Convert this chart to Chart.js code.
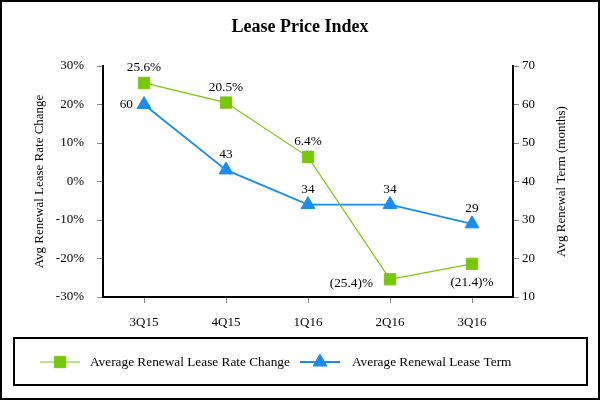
<!DOCTYPE html>
<html>
<head>
<meta charset="utf-8">
<script src="https://cdn.jsdelivr.net/npm/chart.js@4.4.0/dist/chart.umd.min.js"></script>
<style>
  html, body { margin: 0; padding: 0; background: #fff; }
  #wrap { width: 600px; height: 400px; position: relative; }
</style>
</head>
<body>
<div id="wrap"><canvas id="leaseChart" width="600" height="400"></canvas></div>
<script>
// --- dados ---
const quarters = ['3Q15', '4Q15', '1Q16', '2Q16', '3Q16'];
const rateChange = [25.6, 20.5, 6.4, -25.4, -21.4];
const leaseTerm = [60, 43, 34, 34, 29];
const leftTicks = [-30, -20, -10, 0, 10, 20, 30];
const rightTicks = [10, 20, 30, 40, 50, 60, 70];

const GREEN = '#78C80A';
const BLUE = '#1A8CEE';
const FONT = 'Liberation Serif';

// posição das etiquetas de cada ponto
const labelPlace = [
    ['top', 'top', 'top', 'left', 'bottom'],
    ['left', 'top', 'top', 'top', 'top']
];

const fmtRate = v => v < 0 ? '(' + Math.abs(v).toFixed(1) + ')%' : v.toFixed(1) + '%';
const fmtTerm = v => String(v);

const decorPlugin = {
    id: 'decor',
    afterDatasetsDraw(chart) {
        const ctx = chart.ctx;
        ctx.save();
        ctx.font = '13.3px "' + FONT + '"';
        ctx.fillStyle = '#000';
        chart.data.datasets.forEach((ds, di) => {
            const meta = chart.getDatasetMeta(di);
            meta.data.forEach((pt, i) => {
                const text = di === 0 ? fmtRate(ds.data[i]) : fmtTerm(ds.data[i]);
                const place = labelPlace[di][i];
                let x = pt.x, y = pt.y;
                ctx.textBaseline = 'middle';
                if (place === 'top') { ctx.textAlign = 'center'; y -= 15; }
                else if (place === 'bottom') { ctx.textAlign = 'center'; y += 19; }
                else { ctx.textAlign = 'right'; x -= di === 0 ? 17 : 11; y += di === 0 ? 4 : 0; }
                ctx.fillText(text, x, y);
            });
        });
        ctx.restore();
    },
    afterDraw(chart) {
        const ctx = chart.ctx;
        const area = chart.chartArea;
        ctx.save();
        // moldura exterior
        ctx.strokeStyle = '#000';
        ctx.lineWidth = 2;
        ctx.strokeRect(1, 1, 598, 398);

        // títulos dos eixos (ambos de baixo para cima)
        ctx.font = '13px "' + FONT + '"';
        ctx.fillStyle = '#000';
        ctx.textAlign = 'center';
        ctx.textBaseline = 'middle';
        const midY = (area.top + area.bottom) / 2;
        [[40, 'Avg Renewal Lease Rate Change'], [562, 'Avg Renewal Term (months)']].forEach(([x, t]) => {
            ctx.save();
            ctx.translate(x, midY);
            ctx.rotate(-Math.PI / 2);
            ctx.fillText(t, 0, 0);
            ctx.restore();
        });

        // legenda
        ctx.strokeRect(14, 338, 573, 47);
        ctx.font = '13.3px "' + FONT + '"';
        const ly = 362;
        const items = [[40, 90], [300, 352]];
        chart.data.datasets.forEach((ds, di) => {
            const [lx, tx] = items[di];
            ctx.strokeStyle = ds.borderColor;
            ctx.lineWidth = ds.borderWidth;
            ctx.beginPath();
            ctx.moveTo(lx, ly);
            ctx.lineTo(lx + 40, ly);
            ctx.stroke();
            ctx.fillStyle = ds.pointBackgroundColor;
            ctx.strokeStyle = ds.pointBorderColor;
            ctx.lineWidth = 1;
            Chart.helpers.drawPoint(ctx, { pointStyle: ds.pointStyle, radius: ds.pointRadius, rotation: 0, borderWidth: 1 }, lx + 20, ly);
            ctx.fillStyle = '#000';
            ctx.textAlign = 'left';
            ctx.fillText(ds.label, tx, ly + 1);
        });
        ctx.restore();
    }
};

Chart.defaults.font.family = FONT;
Chart.defaults.font.size = 13;
Chart.defaults.color = '#000';

new Chart(document.getElementById('leaseChart').getContext('2d'), {
    type: 'line',
    data: {
        labels: quarters,
        datasets: [{
            label: 'Average Renewal Lease Rate Change',
            data: rateChange,
            yAxisID: 'y',
            borderColor: GREEN,
            borderWidth: 1.2,
            pointStyle: 'rect',
            pointRadius: 8,
            pointBackgroundColor: GREEN,
            pointBorderColor: GREEN,
            pointBorderWidth: 1,
            tension: 0
        }, {
            label: 'Average Renewal Lease Term',
            data: leaseTerm,
            yAxisID: 'y1',
            borderColor: BLUE,
            borderWidth: 1.8,
            pointStyle: 'triangle',
            pointRadius: 8,
            pointBackgroundColor: BLUE,
            pointBorderColor: BLUE,
            pointBorderWidth: 1,
            tension: 0
        }]
    },
    options: {
        responsive: false,
        animation: false,
        layout: { padding: 0 },
        plugins: {
            legend: { display: false },
            tooltip: { enabled: false },
            title: {
                display: true,
                text: 'Lease Price Index',
                color: '#000',
                font: { family: FONT, size: 18, weight: 'bold' },
                padding: { top: 17, bottom: 27.4 }
            }
        },
        scales: {
            x: {
                offset: true,
                grid: { offset: false, drawOnChartArea: false, drawTicks: true, tickLength: 6, color: '#888' },
                border: { display: true, color: '#000', width: 2 },
                ticks: { padding: 12, maxRotation: 0 },
                afterFit: s => { s.height = 103; }
            },
            y: {
                position: 'left',
                min: -30, max: 30,
                afterBuildTicks: s => { s.ticks = leftTicks.map(v => ({ value: v })); },
                ticks: { padding: 13, callback: v => v + '%' },
                grid: { drawOnChartArea: false, tickLength: 6, color: '#888' },
                border: { display: true, color: '#000', width: 2 },
                afterFit: s => { s.width = 103; }
            },
            y1: {
                position: 'right',
                min: 10, max: 70,
                afterBuildTicks: s => { s.ticks = rightTicks.map(v => ({ value: v })); },
                ticks: { padding: 3 },
                grid: { drawOnChartArea: false, tickLength: 6, color: '#888' },
                border: { display: true, color: '#000', width: 2 },
                afterFit: s => { s.width = 87; }
            }
        }
    },
    plugins: [decorPlugin]
});
</script>
</body>
</html>
